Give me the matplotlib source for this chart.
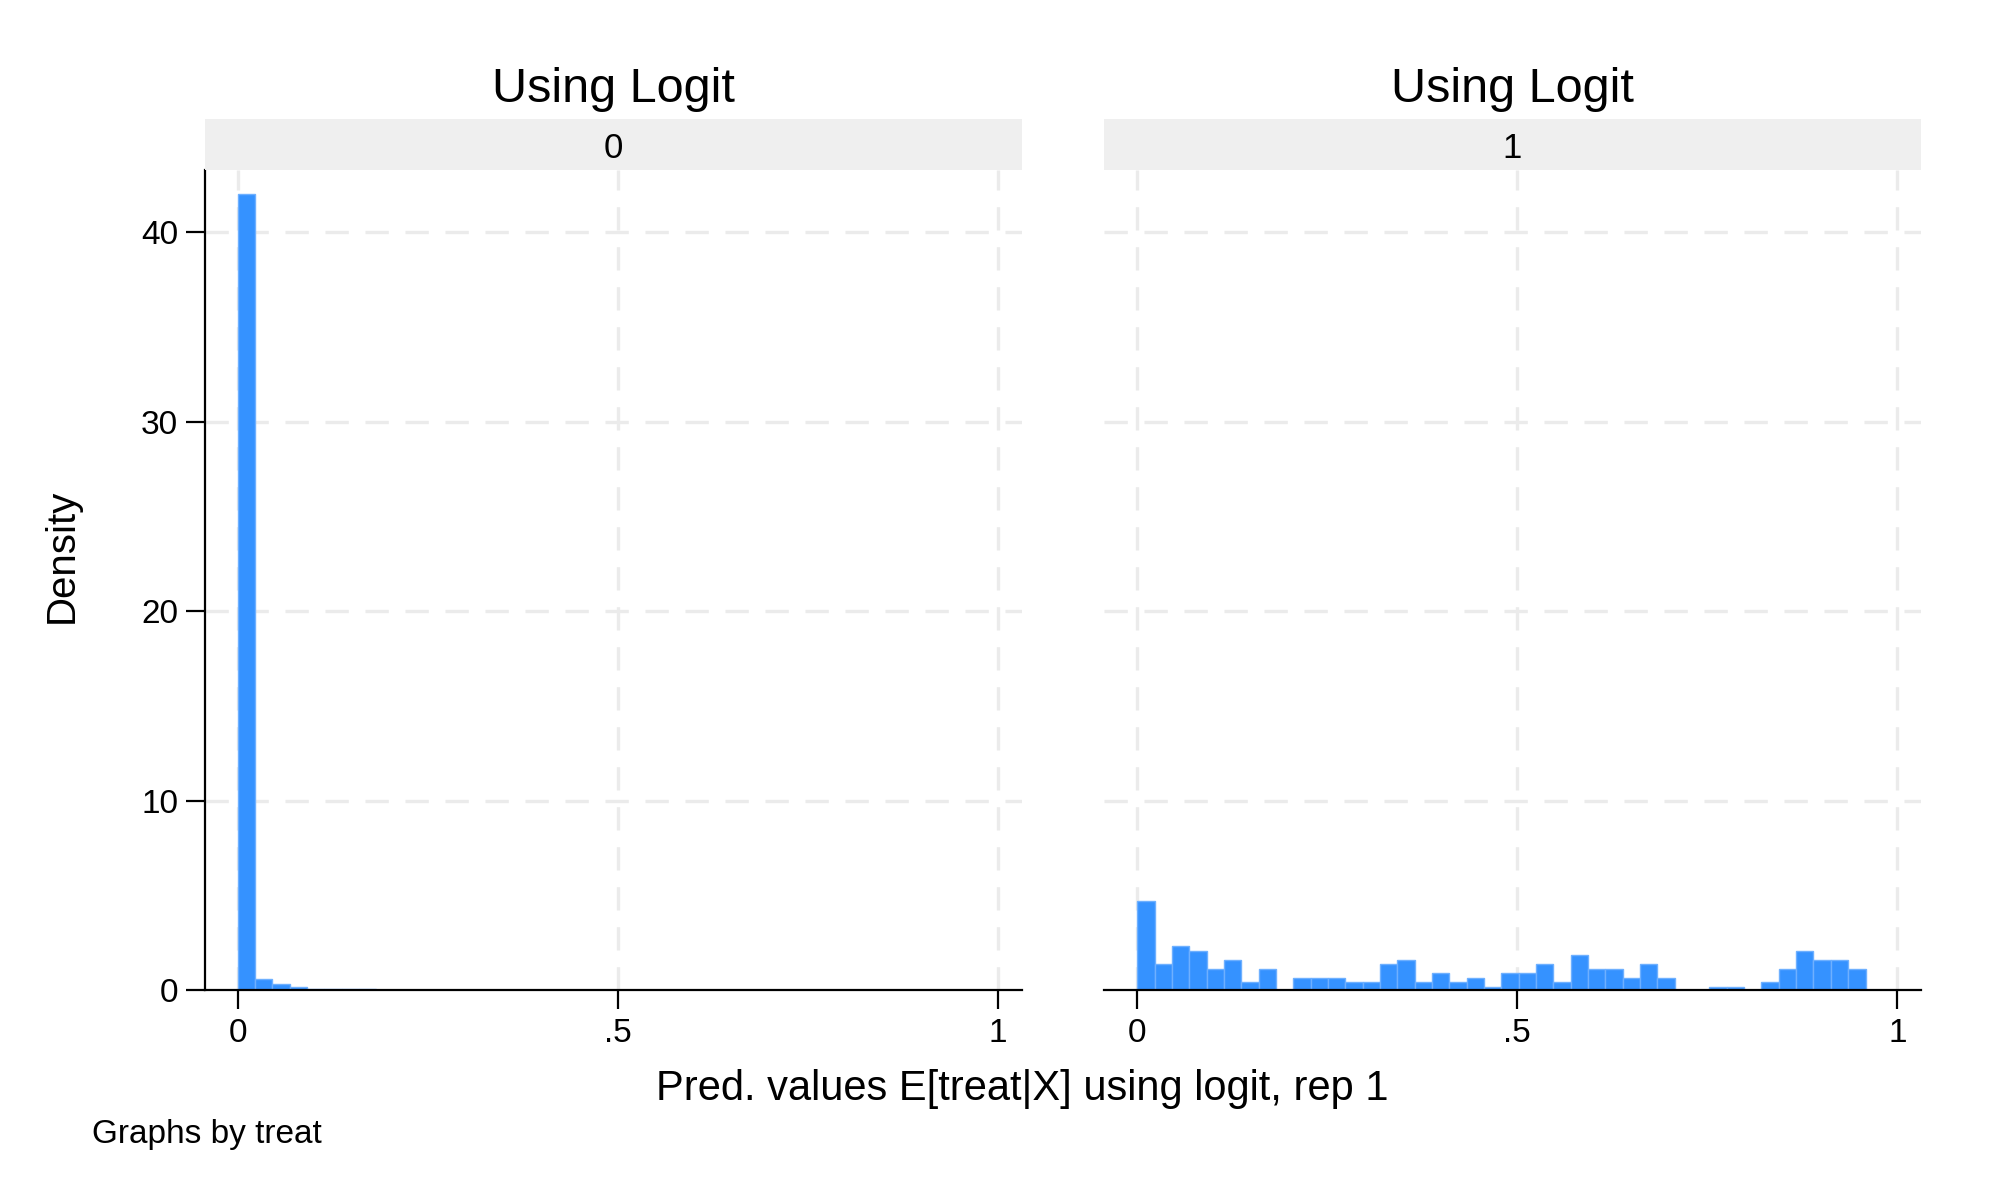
import numpy as np
import matplotlib
matplotlib.use("Agg")
import matplotlib.pyplot as plt
from matplotlib.patches import Rectangle

plt.rcParams['font.family'] = ['Liberation Sans', 'DejaVu Sans']

# ---- data ----
panel_titles = ["Using Logit", "Using Logit"]
panel_groups = ["0", "1"]
bin_lo, bin_hi, n_bins = 0.0, 0.958, 42
# density per bin, treat == 0
dens_treat0 = [42.05, 0.60, 0.32, 0.14, 0.07, 0.05, 0.03, 0.03, 0.02, 0.02,
               0.02, 0.02, 0.02, 0.02, 0.02, 0.02, 0.02, 0.02, 0.02, 0.02,
               0.02, 0.02, 0.02, 0.02, 0.02, 0.02, 0.02, 0.02, 0.02, 0.02,
               0.02, 0.0, 0.02, 0.02, 0.0, 0.0, 0.02, 0.02, 0.02, 0.02,
               0.02, 0.02]
# density per bin, treat == 1
dens_treat1 = [4.72, 1.38, 2.33, 2.08, 1.13, 1.61, 0.41, 1.13, 0.0, 0.64,
               0.64, 0.64, 0.41, 0.41, 1.38, 1.61, 0.41, 0.88, 0.41, 0.64,
               0.18, 0.88, 0.88, 1.38, 0.41, 1.86, 1.13, 1.13, 0.64, 1.38,
               0.64, 0.0, 0.0, 0.18, 0.18, 0.0, 0.41, 1.13, 2.08, 1.61,
               1.61, 1.13]
x_ticks = [0, 0.5, 1]
x_ticklabels = ["0", ".5", "1"]
y_ticks = [0, 10, 20, 30, 40]
x_title = "Pred. values E[treat|X] using logit, rep 1"
y_title = "Density"
note = "Graphs by treat"

# ---- figure ----
W, H = 2004, 1202
fig = plt.figure(figsize=(W / 100, H / 100), dpi=100)
fig.patch.set_facecolor("white")

def fx(px):
    return px / W

def fy(py):
    return 1 - py / H

ax_w = 817
ax_top, ax_bot = 170, 990
lefts = [204.5, 1104]
edges = np.linspace(bin_lo, bin_hi, n_bins + 1)
width = edges[1] - edges[0]
grid_col = "#ebebeb"
bar_face = "#3592ff"
bar_edge = "#6eb0ff"

for i, (dens, grp, ttl) in enumerate(zip([dens_treat0, dens_treat1], panel_groups, panel_titles)):
    L = lefts[i]
    ax = fig.add_axes([fx(L), fy(ax_bot), ax_w / W, (ax_bot - ax_top) / H])
    ax.set_xlim(-0.0437, 1.031)
    ax.set_ylim(0, 43.3)
    for gx in x_ticks:
        ax.axvline(gx, color=grid_col, lw=2.4, ls=(0, (7, 5)), zorder=0)
    for gy in y_ticks[1:]:
        ax.axhline(gy, color=grid_col, lw=2.4, ls=(0, (7, 5)), zorder=0)
    ax.bar(edges[:-1], dens, width=width, align="edge", color=bar_face,
           edgecolor=bar_edge, linewidth=1.0, zorder=2)
    ax.set_xticks(x_ticks)
    ax.set_xticklabels(x_ticklabels, fontsize=24)
    ax.tick_params(axis="x", length=14, width=1.6, pad=6, colors="black")
    for s in ["top", "right"]:
        ax.spines[s].set_visible(False)
    ax.spines["bottom"].set_linewidth(1.6)
    ax.spines["bottom"].set_zorder(3)
    if i == 0:
        ax.set_yticks(y_ticks)
        ax.set_yticklabels([str(v) for v in y_ticks], fontsize=24)
        ax.tick_params(axis="y", length=14, width=1.6, pad=5)
        ax.spines["left"].set_linewidth(1.6)
    else:
        ax.set_yticks([])
        ax.spines["left"].set_visible(False)
    ax.set_facecolor("white")
    # strip
    fig.patches.append(Rectangle((fx(L), fy(170)), ax_w / W, 51 / H,
                                 transform=fig.transFigure, facecolor="#efefef",
                                 edgecolor="none"))
    fig.text(fx(L + ax_w / 2), fy(148), grp, ha="center", va="center", fontsize=25)
    fig.text(fx(L + ax_w / 2), fy(89), ttl, ha="center", va="center", fontsize=35)

fig.text(fx(1022), fy(1089), x_title, ha="center", va="center", fontsize=30)
fig.text(fx(62), fy(556), y_title, ha="center", va="center", fontsize=29, rotation=90)
fig.text(fx(92), fy(1134), note, ha="left", va="center", fontsize=24)

fig.savefig("out.png", dpi=100, facecolor="white")
